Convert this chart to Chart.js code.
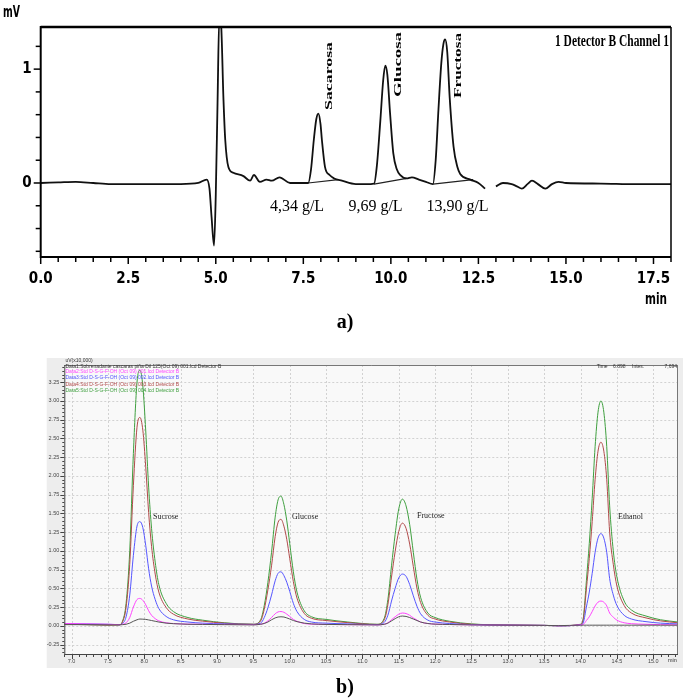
<!DOCTYPE html>
<html>
<head>
<meta charset="utf-8">
<script src="https://cdn.jsdelivr.net/npm/chart.js@4.4.1/dist/chart.umd.min.js"></script>
<style>
  body { margin: 0; background: #fff; width: 685px; height: 698px; position: relative; overflow: hidden; }
  canvas { position: absolute; left: 0; }
  #chartA { top: 0; width: 685px; height: 340px; }
  #chartB { top: 340px; width: 685px; height: 358px; }
  .tag { position: absolute; width: 40px; text-align: center; font: bold 20px "Liberation Serif", "Times New Roman", serif; color: #000; }
</style>
</head>
<body>
<canvas id="chartA" width="685" height="340"></canvas>
<canvas id="chartB" width="685" height="358"></canvas>
<div class="tag" style="left:325px; top:310px;">a)</div>
<div class="tag" style="left:325px; top:675px;">b)</div>
<script>
// ---- chart a) : single detector trace (min, mV) ----
const timeA = [0, 0.5, 1.0, 1.5, 2.0, 3.0, 4.0, 4.5, 4.74, 4.82, 4.88, 4.95, 5.0, 5.05, 5.1, 5.15,
  5.22, 5.27, 5.36, 5.5, 5.79, 5.98, 6.09, 6.26, 6.45, 6.6, 6.82, 7.12, 7.55,
  7.64, 7.72, 7.8, 7.87, 7.93, 7.99, 8.03, 8.12, 8.25, 8.38, 8.6, 9.0, 9.3,
  9.52, 9.6, 9.7, 9.78, 9.84, 9.9, 9.98, 10.07, 10.17, 10.27, 10.45, 10.6, 10.8, 11.0,
  11.2, 11.28, 11.36, 11.44, 11.5, 11.55, 11.61, 11.68, 11.79, 11.9, 11.98, 12.27, 12.5, 12.69,
  12.8, 13.0, 13.2, 13.45, 13.6, 13.74, 13.9, 14.03, 14.2, 14.41, 14.6, 14.79, 15.0, 16.0, 17.0, 18.0];
const signalA = [0, 0.005, 0.01, 0.0, -0.01, -0.01, -0.01, 0.0, 0.03, -0.05, -0.3, -0.55, -0.1, 0.7, 1.45, 1.4,
  0.73, 0.38, 0.14, 0.09, 0.06, 0.02, 0.07, 0.01, 0.03, 0.02, 0.05, 0.0, 0.0,
  0.0, 0.12, 0.38, 0.56, 0.61, 0.52, 0.38, 0.14, 0.07, 0.04, 0.02, -0.01, -0.01,
  -0.005, 0.15, 0.55, 0.9, 1.03, 0.95, 0.6, 0.26, 0.12, 0.07, 0.04, 0.05, 0.03, 0.01,
  -0.01, 0.2, 0.65, 1.05, 1.22, 1.26, 1.15, 0.75, 0.32, 0.14, 0.08, 0.03, 0.0, -0.05,
  null, -0.03, 0.0, -0.01, -0.03, -0.05, -0.01, 0.02, -0.01, -0.05, -0.01, 0.01, 0.0, -0.005, -0.01, -0.01];
// integration baselines under the three peaks (start, end)
const baseTimeA = [7.64, 8.5, 8.55, 9.52, 10.45, 10.5, 11.2, 12.35];
const baseSignalA = [0.0, 0.03, null, -0.01, 0.04, null, -0.01, 0.03];
const xTicksA = [0, 2.5, 5, 7.5, 10, 12.5, 15, 17.5];
const yTicksA = [0, 1];
const peakNamesA = ['Sacarosa', 'Glucosa', 'Fructosa'];
const concLabelsA = ['4,34 g/L', '9,69 g/L', '13,90 g/L'];

// ---- chart b) : five overlaid runs (min, uV x10,000) ----
const timesB = [6.9, 7.2, 7.5, 7.65, 7.7, 7.75, 7.8, 7.85, 7.9, 7.94, 7.98, 8.02, 8.06, 8.1, 8.15, 8.2, 8.3, 8.4, 8.6, 8.8, 9.1, 9.5,
  9.6, 9.65, 9.7, 9.75, 9.8, 9.84, 9.88, 9.92, 9.96, 10.0, 10.05, 10.1, 10.2, 10.3, 10.5, 10.8, 11.2,
  11.3, 11.35, 11.4, 11.45, 11.5, 11.55, 11.6, 11.65, 11.7, 11.75, 11.8, 11.9, 12.0, 12.2, 12.5,
  13.0, 13.5, 13.7, 14.0, 14.04, 14.08, 14.12, 14.16, 14.2, 14.24, 14.28, 14.32, 14.36, 14.4, 14.45, 14.5, 14.6, 14.7, 14.9, 15.1, 15.34];
const data1 = [0.015, 0.015, 0.012, 0.012, 0.015, 0.02, 0.035, 0.06, 0.08, 0.09, 0.088, 0.085, 0.078, 0.07, 0.06, 0.05, 0.035, 0.028, 0.02, 0.018, 0.015, 0.012,
  0.02, 0.03, 0.05, 0.08, 0.105, 0.117, 0.12, 0.117, 0.105, 0.09, 0.07, 0.055, 0.035, 0.025, 0.018, 0.015, 0.012,
  0.02, 0.035, 0.065, 0.095, 0.12, 0.13, 0.125, 0.11, 0.09, 0.07, 0.05, 0.03, 0.022, 0.017, 0.012,
  0.008, 0.005, 0.002, 0.008, 0.008, 0.008, 0.008, 0.008, 0.008, 0.008, 0.008, 0.008, 0.008, 0.008, 0.008, 0.008, 0.008, 0.008, 0.008, 0.008, 0.008];
const data2 = [0.03, 0.025, 0.02, 0.015, 0.02, 0.04, 0.11, 0.25, 0.35, 0.365, 0.34, 0.28, 0.2, 0.14, 0.095, 0.065, 0.04, 0.03, 0.022, 0.02, 0.018, 0.015,
  0.02, 0.035, 0.065, 0.11, 0.16, 0.185, 0.19, 0.18, 0.155, 0.125, 0.085, 0.06, 0.03, 0.022, 0.018, 0.015, 0.012,
  0.02, 0.04, 0.08, 0.12, 0.155, 0.17, 0.163, 0.14, 0.105, 0.075, 0.05, 0.03, 0.022, 0.017, 0.012,
  0.008, 0.005, 0.0, 0.012, 0.02, 0.07, 0.12, 0.19, 0.265, 0.315, 0.33, 0.315, 0.265, 0.17, 0.115, 0.075, 0.04, 0.028, 0.02, 0.015, 0.012];
const data3 = [0.03, 0.025, 0.02, 0.015, 0.03, 0.12, 0.41, 0.94, 1.33, 1.39, 1.31, 1.07, 0.76, 0.53, 0.35, 0.23, 0.125, 0.08, 0.05, 0.035, 0.025, 0.018,
  0.035, 0.11, 0.24, 0.41, 0.6, 0.7, 0.72, 0.67, 0.58, 0.46, 0.3, 0.19, 0.085, 0.05, 0.035, 0.025, 0.015,
  0.045, 0.14, 0.33, 0.5, 0.64, 0.69, 0.66, 0.55, 0.4, 0.26, 0.16, 0.075, 0.05, 0.03, 0.015,
  0.008, 0.005, 0.0, 0.012, 0.05, 0.25, 0.45, 0.7, 0.98, 1.17, 1.23, 1.17, 0.98, 0.63, 0.41, 0.27, 0.14, 0.09, 0.055, 0.035, 0.025];
const data4 = [0.02, 0.015, 0.01, 0.012, 0.05, 0.25, 0.82, 1.87, 2.65, 2.78, 2.61, 2.12, 1.51, 1.06, 0.69, 0.45, 0.245, 0.155, 0.09, 0.062, 0.035, 0.02,
  0.065, 0.22, 0.48, 0.8, 1.19, 1.38, 1.42, 1.33, 1.15, 0.9, 0.59, 0.37, 0.165, 0.1, 0.07, 0.042, 0.018,
  0.08, 0.28, 0.65, 0.99, 1.26, 1.37, 1.3, 1.09, 0.79, 0.5, 0.31, 0.14, 0.09, 0.05, 0.02,
  0.01, 0.005, 0.0, 0.018, 0.1, 0.49, 0.9, 1.39, 1.95, 2.33, 2.45, 2.33, 1.95, 1.25, 0.82, 0.53, 0.27, 0.17, 0.105, 0.065, 0.04];
const data5 = [0.02, 0.015, 0.01, 0.012, 0.06, 0.3, 1.0, 2.3, 3.25, 3.41, 3.2, 2.6, 1.85, 1.3, 0.85, 0.55, 0.3, 0.19, 0.11, 0.075, 0.04, 0.02,
  0.08, 0.27, 0.58, 0.98, 1.45, 1.68, 1.73, 1.62, 1.4, 1.1, 0.72, 0.45, 0.2, 0.12, 0.085, 0.05, 0.02,
  0.1, 0.35, 0.8, 1.22, 1.56, 1.69, 1.6, 1.35, 0.98, 0.62, 0.38, 0.17, 0.11, 0.06, 0.025,
  0.01, 0.005, 0.0, 0.02, 0.12, 0.6, 1.1, 1.7, 2.39, 2.85, 3.0, 2.85, 2.39, 1.6, 1.0, 0.65, 0.33, 0.21, 0.13, 0.08, 0.05];
const runNamesB = [
  'Data1:Sobrenadante cascaras piña Dil 125(Oct 09) 001.lcd Detector B',
  'Data2:Std D-S-G-F-OH (Oct 09) 001.lcd Detector B',
  'Data3:Std D-S-G-F-OH (Oct 09) 002.lcd Detector B',
  'Data4:Std D-S-G-F-OH (Oct 09) 003.lcd Detector B',
  'Data5:Std D-S-G-F-OH (Oct 09) 004.lcd Detector B'
];
const runColorsB = ['#555555', '#ff44ff', '#5555ff', '#b04a4a', '#3f9f3f'];
const xTicksB = [7.0, 7.5, 8.0, 8.5, 9.0, 9.5, 10.0, 10.5, 11.0, 11.5, 12.0, 12.5, 13.0, 13.5, 14.0, 14.5, 15.0];
const yTicksB = [-0.25, 0, 0.25, 0.5, 0.75, 1.0, 1.25, 1.5, 1.75, 2.0, 2.25, 2.5, 2.75, 3.0, 3.25];
const peakNamesB = ['Sucrose', 'Glucose', 'Fructose', 'Ethanol'];

const NARROW = '"Liberation Sans Narrow", "DejaVu Sans Condensed", "Arial Narrow", sans-serif';
const SERIF = '"Liberation Serif", "Times New Roman", serif';
const SANS = '"Liberation Sans", Arial, sans-serif';

function toPoints(xs, ys) {
  return xs.map((x, i) => ({ x: x, y: ys[i] }));
}

// draw text squeezed/stretched to a given width
function fitText(ctx, text, x, y, width, align) {
  const w = ctx.measureText(text).width;
  ctx.save();
  ctx.translate(x, y);
  ctx.scale(width / w, 1);
  ctx.textAlign = align || 'left';
  ctx.fillText(text, 0, 0);
  ctx.restore();
}

function seg(ctx, x1, y1, x2, y2) {
  ctx.beginPath(); ctx.moveTo(x1, y1); ctx.lineTo(x2, y2); ctx.stroke();
}

/* chart a) frame, inward/outward ticks and annotations */
const decorA = {
  id: 'decorA',
  afterDraw(chart) {
    const { ctx, chartArea: a } = chart;
    const xs = chart.scales.x, ys = chart.scales.y;
    ctx.save();
    ctx.strokeStyle = '#000';
    ctx.lineWidth = 2.5; seg(ctx, a.left, a.top, a.right, a.top);
    ctx.lineWidth = 1.5; seg(ctx, a.right, a.top, a.right, a.bottom);
    ctx.lineWidth = 2; seg(ctx, a.left, a.top - 1, a.left, a.bottom + 1);
    seg(ctx, a.left, a.bottom, a.right, a.bottom);
    ctx.lineWidth = 1.5;
    for (let i = 0; i <= 36; i++) {
      const px = xs.getPixelForValue(i * 0.5);
      seg(ctx, px, a.bottom, px, a.bottom + (i % 5 === 0 ? 7 : 5));
    }
    for (let i = -3; i <= 6; i++) {
      const py = ys.getPixelForValue(i * 0.2);
      seg(ctx, a.left - (i % 5 === 0 ? 7 : 5), py, a.left, py);
    }
    ctx.fillStyle = '#000';
    ctx.textBaseline = 'alphabetic';
    ctx.font = 'bold 15px ' + NARROW;
    fitText(ctx, 'mV', 3, 17, 17, 'left');
    fitText(ctx, 'min', 645, 304, 22, 'left');
    ctx.font = 'bold 17px ' + SERIF;
    fitText(ctx, '1 Detector B Channel 1', 669, 46, 114, 'right');
    // rotated peak names
    const nameX = [332, 401, 461], nameY = [110, 97, 98], nameLen = [68, 65, 65];
    ctx.font = 'bold 11px ' + SERIF;
    peakNamesA.forEach((n, i) => {
      ctx.save();
      ctx.translate(nameX[i], nameY[i]);
      ctx.rotate(-Math.PI / 2);
      fitText(ctx, n, 0, 0, nameLen[i], 'left');
      ctx.restore();
    });
    ctx.font = '16px ' + SERIF;
    ctx.textAlign = 'center';
    const concX = [297, 375.5, 457.5];
    concLabelsA.forEach((t, i) => ctx.fillText(t, concX[i], 211));
    ctx.restore();
  }
};

/* chart b) panel, dotted grid, ticks, header and legend text */
const decorB = {
  id: 'decorB',
  beforeDraw(chart) {
    const { ctx, chartArea: a } = chart;
    const xs = chart.scales.x, ys = chart.scales.y;
    ctx.save();
    ctx.fillStyle = '#ededed';
    ctx.fillRect(46.7, 18, 683 - 46.7, 328 - 18);
    ctx.fillStyle = '#f9f9f9';
    ctx.fillRect(a.left, a.top, a.right - a.left, a.bottom - a.top);
    ctx.strokeStyle = '#d2d2d2';
    ctx.lineWidth = 1;
    ctx.setLineDash([2, 2]);
    xTicksB.forEach(v => {
      const px = Math.round(xs.getPixelForValue(v)) + 0.5;
      seg(ctx, px, a.top, px, a.bottom);
    });
    yTicksB.forEach(v => {
      const py = Math.round(ys.getPixelForValue(v)) + 0.5;
      seg(ctx, a.left, py, a.right, py);
    });
    ctx.restore();
  },
  afterDraw(chart) {
    const { ctx, chartArea: a } = chart;
    const xs = chart.scales.x, ys = chart.scales.y;
    ctx.save();
    ctx.lineWidth = 1;
    ctx.strokeStyle = '#777';
    seg(ctx, a.left, a.top + 0.5, a.right, a.top + 0.5);
    seg(ctx, a.right - 0.5, a.top, a.right - 0.5, a.bottom);
    ctx.strokeStyle = '#444';
    seg(ctx, a.left + 0.5, a.top, a.left + 0.5, a.bottom);
    seg(ctx, a.left, a.bottom - 0.5, a.right, a.bottom - 0.5);
    for (let i = -7; i <= 69; i++) {
      const py = Math.round(ys.getPixelForValue(i * 0.05)) + 0.5;
      seg(ctx, a.left - (i % 5 === 0 ? 4 : 2), py, a.left, py);
    }
    for (let i = 69; i <= 153; i++) {
      const px = Math.round(xs.getPixelForValue(i * 0.1)) + 0.5;
      seg(ctx, px, a.bottom, px, a.bottom + (i % 5 === 0 ? 4 : 2));
    }
    ctx.textBaseline = 'middle';
    ctx.textAlign = 'left';
    ctx.font = '5px ' + SANS;
    ctx.fillStyle = '#333';
    ctx.fillText('uV(x10,000)', 65.5, 20.7);
    const lineY = [26.7, 32, 38, 44.3, 50.7];
    runNamesB.forEach((n, i) => {
      ctx.fillStyle = runColorsB[i] === '#555555' ? '#333' : runColorsB[i];
      ctx.fillText(n, 65.5, lineY[i]);
    });
    ctx.fillStyle = '#333';
    ctx.fillText('Time', 596.7, 26.7);
    ctx.fillText('6.898', 613, 26.7);
    ctx.fillText('Intes.', 632, 26.7);
    ctx.textAlign = 'right';
    ctx.fillText('7,694', 677, 26.7);
    ctx.textAlign = 'left';
    ctx.font = '5.5px ' + SANS;
    ctx.fillText('min', 668, 320.7);
    ctx.font = '8px ' + SERIF;
    ctx.fillStyle = '#222';
    const labX = [153, 292, 417, 618], labY = [177, 177, 176, 177];
    peakNamesB.forEach((n, i) => ctx.fillText(n, labX[i], labY[i]));
    ctx.restore();
  }
};

new Chart(document.getElementById('chartA'), {
  type: 'line',
  data: {
    datasets: [
      { data: toPoints(timeA, signalA), borderColor: '#111', borderWidth: 1.8, pointRadius: 0, cubicInterpolationMode: 'monotone', spanGaps: false },
      { data: toPoints(baseTimeA, baseSignalA), borderColor: '#222', borderWidth: 1.2, pointRadius: 0, tension: 0, spanGaps: false }
    ]
  },
  options: {
    responsive: false,
    animation: false,
    layout: { padding: { left: 0, right: 14, top: 27, bottom: 43 } },
    plugins: { legend: { display: false }, tooltip: { enabled: false } },
    scales: {
      x: {
        type: 'linear', min: 0, max: 18,
        afterBuildTicks: s => { s.ticks = xTicksA.map(v => ({ value: v })); },
        afterFit: s => { s.height = 40; },
        grid: { display: false, drawTicks: false },
        border: { display: false },
        ticks: { padding: 13, color: '#000', autoSkip: false, maxRotation: 0,
          font: { family: NARROW, size: 15, weight: 'bold' },
          callback: v => Number(v).toFixed(1) }
      },
      y: {
        type: 'linear', min: -0.65, max: 1.37,
        afterBuildTicks: s => { s.ticks = yTicksA.map(v => ({ value: v })); },
        afterFit: s => { s.width = 40.7; },
        grid: { display: false, drawTicks: false },
        border: { display: false },
        ticks: { padding: 9, color: '#000', autoSkip: false,
          font: { family: NARROW, size: 15, weight: 'bold' },
          callback: v => String(v) }
      }
    }
  },
  plugins: [decorA]
});

const runsB = [data1, data2, data3, data4, data5];
new Chart(document.getElementById('chartB'), {
  type: 'line',
  data: {
    datasets: runsB.map((d, i) => ({
      label: runNamesB[i],
      data: toPoints(timesB, d),
      borderColor: runColorsB[i],
      borderWidth: 1,
      pointRadius: 0,
      cubicInterpolationMode: 'monotone'
    }))
  },
  options: {
    responsive: false,
    animation: false,
    layout: { padding: { left: 0, right: 7, top: 25, bottom: 31 } },
    plugins: { legend: { display: false }, tooltip: { enabled: false } },
    scales: {
      x: {
        type: 'linear', min: 6.9, max: 15.34,
        afterBuildTicks: s => { s.ticks = xTicksB.map(v => ({ value: v })); },
        afterFit: s => { s.height = 12; },
        grid: { display: false, drawTicks: false },
        border: { display: false },
        ticks: { padding: 3.5, color: '#444', autoSkip: false, maxRotation: 0,
          font: { family: SANS, size: 5.5 },
          callback: v => Number(v).toFixed(1) }
      },
      y: {
        type: 'linear', min: -0.39, max: 3.48,
        afterBuildTicks: s => { s.ticks = yTicksB.map(v => ({ value: v })); },
        afterFit: s => { s.width = 64.3; },
        grid: { display: false, drawTicks: false },
        border: { display: false },
        ticks: { padding: 5, color: '#444', autoSkip: false,
          font: { family: SANS, size: 5.5 },
          callback: v => Number(v).toFixed(2) }
      }
    }
  },
  plugins: [decorB]
});
</script>
</body>
</html>
